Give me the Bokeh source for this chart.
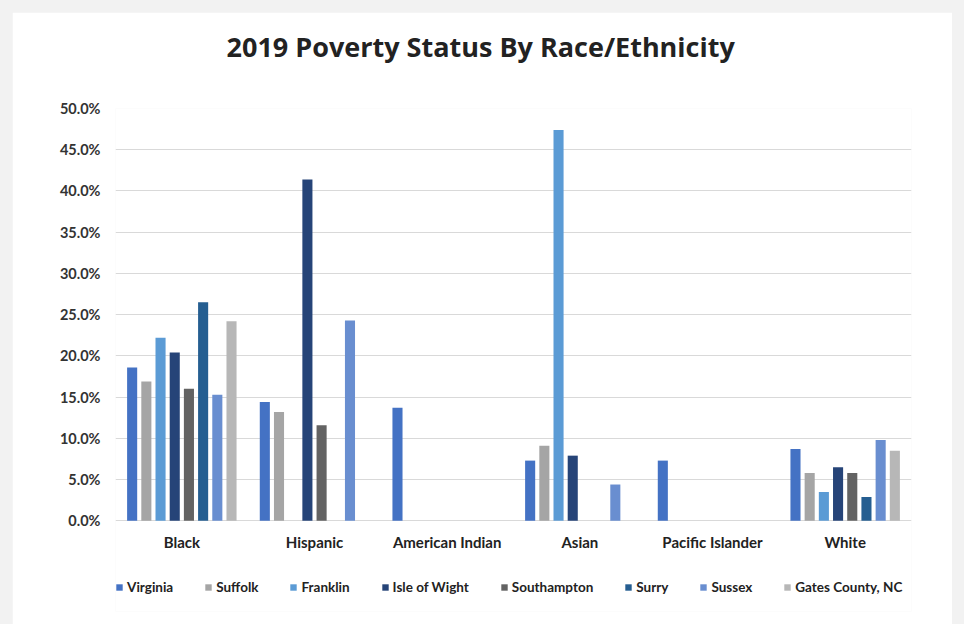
from bokeh.plotting import figure
from bokeh.models import FactorRange, Range1d, PrintfTickFormatter, Title, Legend, LegendItem, FixedTicker, ColumnDataSource
from bokeh.transform import dodge
from bokeh.core.properties import value
from bokeh.layouts import column
from bokeh.embed import file_html
from bokeh.resources import INLINE

categories = ["Black", "Hispanic", "American Indian", "Asian", "Pacific Islander", "White"]
series_names = ["Virginia", "Suffolk", "Franklin", "Isle of Wight", "Southampton", "Surry", "Sussex", "Gates County, NC"]
virginia = [18.6, 14.4, 13.7, 7.3, 7.3, 8.7]
suffolk = [16.9, 13.2, 0, 9.1, 0, 5.8]
franklin = [22.2, 0, 0, 47.4, 0, 3.5]
isle_of_wight = [20.4, 41.4, 0, 7.9, 0, 6.5]
southampton = [16.0, 11.6, 0, 0, 0, 5.8]
surry = [26.5, 0, 0, 0, 0, 2.9]
sussex = [15.3, 24.3, 0, 4.4, 0, 9.8]
gates = [24.2, 0, 0, 0, 0, 8.5]
y_ticks = [0, 5, 10, 15, 20, 25, 30, 35, 40, 45, 50]

series_values = [virginia, suffolk, franklin, isle_of_wight, southampton, surry, sussex, gates]
colors = ["#4472C4", "#A5A5A5", "#5B9BD5", "#264478", "#636363", "#255E91", "#698ED0", "#B7B7B7"]

data = {"cat": categories, "base": [0] * len(categories)}
for i, vals in enumerate(series_values):
    data["s%d" % i] = vals
source = ColumnDataSource(data)

# the frame extends below the 0% line so the category labels and legend sit inside it
p = figure(x_range=FactorRange(*categories), y_range=Range1d(-11, 50),
           width=940, height=612, output_backend="svg", toolbar_location=None,
           min_border_left=103, min_border_right=41, min_border_top=96, min_border_bottom=13)
p.margin = (12, 12, 0, 12)
p.background_fill_color = "white"
p.border_fill_color = "white"
p.outline_line_color = None

step = 0.107
items = []
for i, name in enumerate(series_names):
    r = p.vbar(x=dodge("cat", (i - 3.5) * step, range=p.x_range), top="s%d" % i, width=0.076,
               source=source, fill_color=colors[i], line_color=None)
    items.append(LegendItem(label=name, renderers=[r]))

# category labels under the 0% baseline
p.text(x="cat", y="base", text="cat", source=source, y_offset=21,
       text_align="center", text_baseline="middle",
       text_font=value("Lato"), text_font_style="bold", text_font_size="15px", text_color="#222222")

spacer = Title(text=" ", text_font_size="24px")
title = Title(text="2019 Poverty Status By Race/Ethnicity", align="left", offset=111,
              text_font="Open Sans", text_font_size="27px", text_font_style="bold", text_color="#222222")
p.add_layout(spacer, "above")
p.add_layout(title, "above")

p.xaxis.visible = False

p.yaxis.ticker = FixedTicker(ticks=y_ticks)
p.yaxis.formatter = PrintfTickFormatter(format="%.1f%%")
p.yaxis.axis_line_color = None
p.yaxis.major_tick_line_color = None
p.yaxis.minor_tick_line_color = None
p.yaxis.major_label_standoff = 9
p.yaxis.major_label_text_font = "Lato"
p.yaxis.major_label_text_font_style = "bold"
p.yaxis.major_label_text_font_size = "14.5px"
p.yaxis.major_label_text_color = "#333333"

p.xgrid.grid_line_color = None
p.ygrid.ticker = FixedTicker(ticks=y_ticks)
p.ygrid.grid_line_color = "#d9d9d9"

legend = Legend(items=items, orientation="horizontal", location=(0, 16),
                glyph_width=8, glyph_height=8, label_standoff=4, spacing=31,
                label_text_font="Lato", label_text_font_style="bold", label_text_font_size="13.5px",
                label_text_color="#222222", border_line_color=None, background_fill_alpha=0,
                margin=0, padding=4)
p.add_layout(legend, "center")

layout = column(p, width=964, height=624, styles={"background-color": "#f2f2f2"})

open("out.html", "w").write(file_html(layout, INLINE))
